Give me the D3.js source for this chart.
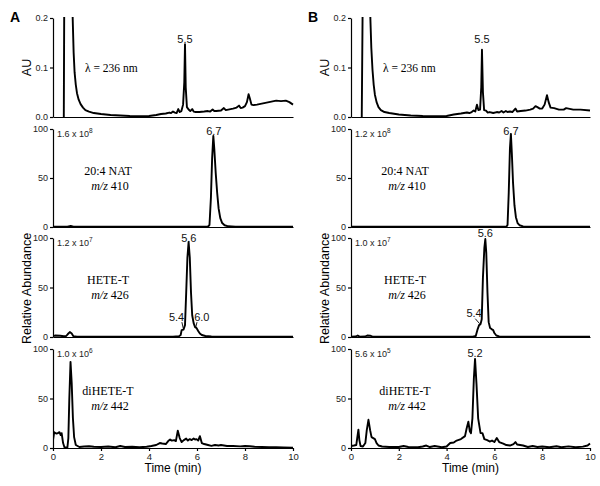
<!DOCTYPE html>
<html><head><meta charset="utf-8">
<script src="https://cdn.jsdelivr.net/npm/d3@7"></script>
<style>
body{margin:0;background:#fff;}
svg{display:block;}
.ax path,.ax line{stroke:#000;stroke-width:1.2px;}
.ax text{font-family:"Liberation Sans",Arial,sans-serif;font-size:9px;fill:#222;}
</style></head>
<body>
<svg id="c" width="600" height="486"></svg>
<script>
// ---------- data ----------
const xTicks = [0, 2, 4, 6, 8, 10];
const auTicks = [0, 0.1, 0.2];
const relTicks = [0, 50, 100];
const panelLetters = ["A", "B"];
const uvLabel = "λ = 236 nm";
const compounds = ["20:4 NAT", "HETE-T", "diHETE-T"];
const mzValues = ["410", "426", "442"];
const scaleA = [["1.6", "8"], ["1.2", "7"], ["1.0", "6"]];
const scaleB = [["1.2", "8"], ["1.0", "7"], ["5.6", "5"]];

// UV trace, panel A  [time (min), AU]
const uvA = [[0.45,0],[0.47,0.25],[0.5,0.5],[0.8,0.5],[0.82,0.2],[0.86,0.13],[0.9,0.09],[0.95,0.065],[1.0,0.048],[1.07,0.035],
[1.15,0.026],[1.25,0.019],[1.35,0.014],[1.5,0.011],[1.7,0.008],[2.0,0.006],[2.4,0.004],[2.8,0.003],[3.2,0.002],[3.6,0.0015],
[4.0,0.002],[4.3,0.004],[4.5,0.006],[4.7,0.007],[4.85,0.009],[4.92,0.008],[5.0,0.011],[5.08,0.009],[5.15,0.008],[5.22,0.016],
[5.28,0.01],[5.35,0.012],[5.42,0.025],[5.47,0.07],[5.5,0.147],[5.53,0.06],[5.58,0.02],[5.65,0.015],[5.72,0.012],[5.8,0.016],
[5.86,0.011],[5.95,0.01],[6.1,0.01],[6.3,0.011],[6.45,0.012],[6.55,0.011],[6.65,0.015],[6.72,0.012],[6.8,0.012],[7.0,0.013],
[7.12,0.018],[7.2,0.014],[7.3,0.015],[7.5,0.017],[7.65,0.019],[7.75,0.023],[7.82,0.018],[7.9,0.019],[8.0,0.022],[8.08,0.03],
[8.15,0.046],[8.2,0.038],[8.27,0.025],[8.35,0.024],[8.5,0.025],[8.7,0.027],[8.9,0.029],[9.1,0.031],[9.3,0.033],[9.5,0.032],
[9.7,0.033],[9.85,0.03],[10,0.025]];
// UV trace, panel B
const uvB = [[0.45,0],[0.5,0.3],[0.55,0.5],[0.78,0.5],[0.81,0.2],[0.85,0.14],[0.9,0.095],[0.95,0.065],[1.0,0.045],[1.07,0.03],
[1.15,0.02],[1.25,0.014],[1.4,0.01],[1.6,0.008],[2.0,0.005],[2.5,0.003],[3.0,0.002],[3.6,0.0015],[4.0,0.002],[4.3,0.005],
[4.6,0.007],[4.85,0.009],[4.95,0.008],[5.05,0.01],[5.13,0.013],[5.2,0.011],[5.27,0.025],[5.33,0.014],[5.4,0.015],[5.45,0.06],
[5.48,0.136],[5.52,0.05],[5.57,0.014],[5.65,0.013],[5.72,0.009],[5.8,0.01],[5.95,0.008],[6.1,0.01],[6.2,0.009],[6.3,0.012],
[6.38,0.009],[6.48,0.012],[6.55,0.01],[6.65,0.011],[6.75,0.01],[6.88,0.017],[6.95,0.011],[7.1,0.012],[7.3,0.013],[7.5,0.015],
[7.62,0.017],[7.72,0.022],[7.8,0.02],[7.9,0.017],[8.0,0.017],[8.1,0.025],[8.2,0.044],[8.27,0.03],[8.35,0.019],[8.5,0.018],
[8.7,0.015],[8.9,0.015],[9.0,0.018],[9.1,0.017],[9.3,0.015],[9.6,0.015],[10,0.013]];

// m/z 410, relative abundance (%)
const natA = [[0,0.3],[0.6,0.3],[0.74,1],[0.85,0.3],[2,0.2],[4,0.2],[6,0.2],[6.45,0.3],[6.52,2],[6.58,30],[6.63,70],[6.68,93],
[6.72,80],[6.78,55],[6.84,35],[6.9,19],[6.97,9],[7.05,4],[7.15,1.8],[7.3,0.7],[7.6,0.3],[8.5,0.2],[10,0.2]];
const natB = [[0,0.2],[6.5,0.2],[6.55,2],[6.6,35],[6.65,80],[6.69,95],[6.73,75],[6.78,45],[6.84,22],[6.9,10],[6.97,4],
[7.05,1.8],[7.2,0.6],[7.5,0.3],[10,0.2]];

// m/z 426
const heteA = [[0,0.8],[0.1,1.5],[0.3,1.2],[0.45,0.8],[0.55,1],[0.62,3],[0.7,5],[0.78,3.5],[0.85,0.8],[1.0,0.4],[2,0.3],[4,0.3],
[5.0,0.4],[5.25,0.8],[5.32,2],[5.36,7],[5.44,7.5],[5.5,12],[5.55,45],[5.6,80],[5.65,96],[5.7,80],[5.75,45],[5.8,22],[5.86,14],
[5.92,10],[5.98,9],[6.05,6],[6.12,3.5],[6.2,2],[6.35,1],[6.6,0.6],[7,0.4],[10,0.3]];
const heteB = [[0,0.3],[0.2,0.5],[0.28,1.5],[0.36,0.4],[0.6,0.5],[0.68,1.5],[0.8,1.3],[0.9,0.4],[2,0.2],[4,0.2],[5.1,0.3],
[5.22,1],[5.3,8],[5.36,12],[5.42,13],[5.47,18],[5.52,60],[5.58,90],[5.62,99],[5.66,85],[5.71,45],[5.76,15],[5.82,9],[5.88,8],
[5.95,7],[6.0,4],[6.08,1.5],[6.2,0.6],[6.5,0.3],[10,0.2]];

// m/z 442
const diheteA = [[0,8],[0.05,16],[0.1,15],[0.15,14.5],[0.2,15],[0.27,16],[0.32,13],[0.36,15],[0.42,5],[0.48,0.5],[0.6,0.5],
[0.64,10],[0.68,50],[0.73,87],[0.78,65],[0.83,30],[0.88,11],[0.95,3],[1.1,1],[1.3,1.5],[1.5,1.8],[1.7,1.2],[2.0,1],[2.3,1.5],
[2.6,0.8],[2.8,2],[3.0,1],[3.3,1.3],[3.6,0.8],[3.9,1.2],[4.1,2],[4.3,3],[4.45,5],[4.55,4.5],[4.7,4],[4.8,7],[4.88,8.5],
[4.95,7.5],[5.05,8],[5.12,7],[5.2,17.5],[5.28,10],[5.36,6],[5.45,8],[5.55,9.5],[5.62,7.5],[5.7,9],[5.78,8],[5.86,9.5],
[5.92,8.5],[5.98,9],[6.05,7.5],[6.12,12],[6.2,5],[6.3,4],[6.46,3],[6.6,2.2],[6.75,3],[6.9,2.5],[7.0,3],[7.25,2],[7.5,2],
[7.8,1.6],[8.0,2],[8.2,1.8],[8.4,1.2],[8.7,1],[9.0,0.8],[9.3,0.7],[9.6,0.6],[10,0.3]];
const diheteB = [[0,2],[0.12,2.5],[0.22,3],[0.26,10],[0.31,18.5],[0.35,8],[0.4,2],[0.5,1.5],[0.6,5],[0.66,18],[0.73,28.5],
[0.8,18],[0.86,11],[0.93,10],[1.0,9],[1.07,5],[1.15,2.5],[1.3,1.5],[1.6,1],[2.0,1],[2.2,2],[2.4,1],[2.8,0.8],[3.0,1.5],
[3.15,2.5],[3.3,1],[3.5,2],[3.8,0.8],[4.0,1.5],[4.15,5],[4.3,5.5],[4.42,7.5],[4.6,9],[4.77,12],[4.84,20],[4.91,26.5],
[4.97,17],[5.02,15],[5.08,30],[5.14,70],[5.19,90],[5.25,65],[5.32,30],[5.42,15],[5.5,15],[5.58,9],[5.7,8],[5.8,6.5],
[5.9,7.5],[6.0,6],[6.1,10],[6.2,6],[6.37,4.5],[6.5,3],[6.65,2.5],[6.8,4],[6.88,6],[6.95,3.5],[7.2,2.5],[7.4,1],[7.6,2],
[7.8,1],[8.0,1.5],[8.3,0.8],[8.6,1.8],[8.8,0.8],[9.1,1.6],[9.4,0.8],[9.7,1.4],[9.9,2.5],[10,4.5]];

// peak annotations: [column, row, label, time, value]
const peakLabels = [[0,0,"5.5",5.5,0.1495],[1,0,"5.5",5.48,0.1495],[0,1,"6.7",6.7,94],[1,1,"6.7",6.69,94],
[0,2,"5.6",5.66,96],[1,2,"5.6",5.62,101],[0,2,"5.4",5.15,16],[0,2,"6.0",6.2,16],[1,2,"5.4",5.15,20.5],[1,3,"5.2",5.19,92]];
// leader lines: [column, row, t1, v1, t2, v2]
const leaders = [[0,2,5.37,15,5.43,8.5],[0,2,6.0,15,5.94,9],[1,2,5.2,18.5,5.38,13.5]];

// ---------- layout ----------
const cols = [[53, 293], [351, 590]];
const rows = [[18, 117], [129, 227], [238, 337], [349, 448]];
const traces = [[uvA, natA, heteA, diheteA], [uvB, natB, heteB, diheteB]];

const svg = d3.select("#c");
const sans = '"Liberation Sans",Arial,sans-serif';
const serif = '"Liberation Serif","Times New Roman",serif';

cols.forEach((cx, ci) => {
  const x = d3.scaleLinear().domain([0, 10]).range(cx);
  rows.forEach((ry, ri) => {
    const isUV = ri === 0;
    const y = d3.scaleLinear().domain(isUV ? [0, 0.2] : [0, 100]).range([ry[1], ry[0]]);
    const g = svg.append("g");
    const cid = `clip${ci}${ri}`;
    svg.append("clipPath").attr("id", cid).append("rect")
      .attr("x", cx[0]).attr("y", ry[0] - 1).attr("width", cx[1] - cx[0] + 2).attr("height", ry[1] - ry[0] + 2);
    // trace
    g.append("path").datum(traces[ci][ri])
      .attr("clip-path", `url(#${cid})`)
      .attr("fill", "none").attr("stroke", "#000").attr("stroke-width", 1.9).attr("stroke-linejoin", "round")
      .attr("d", d3.line().x(d => x(d[0])).y(d => y(d[1])));
    // y axis
    g.append("g").attr("class", "ax").attr("transform", `translate(${cx[0]},0)`)
      .call(d3.axisLeft(y).tickValues(isUV ? auTicks : relTicks).tickFormat(isUV ? d3.format(".1f") : d3.format("d"))
        .tickSize(3).tickSizeOuter(0).tickPadding(2));
    // x axis
    const xa = g.append("g").attr("class", "ax").attr("transform", `translate(0,${ry[1]})`);
    if (ri === rows.length - 1) {
      xa.call(d3.axisBottom(x).tickValues(xTicks).tickSize(3).tickSizeOuter(0).tickPadding(2));
      xa.selectAll("text").style("font-size", "9.5px");
    } else {
      xa.call(d3.axisBottom(x).tickValues([]).tickSizeOuter(0));
    }
    // labels
    if (isUV) {
      g.append("text").attr("x", cx[0] + 32).attr("y", ry[0] + 54)
        .style("font-family", serif).style("font-size", "11.5px").text(uvLabel);
    } else {
      const k = ri - 1;
      const sc = (ci === 0 ? scaleA : scaleB)[k];
      const st = g.append("text").attr("x", cx[0] + 4).attr("y", ry[0] + 7.5)
        .style("font-family", sans).style("font-size", "9px").style("fill", "#222");
      st.append("tspan").text(sc[0] + " x 10");
      st.append("tspan").attr("dy", -3.5).style("font-size", "6.5px").text(sc[1]);
      const cxm = cx[0] + (ci === 0 ? 55 : 54);
      g.append("text").attr("x", cxm).attr("y", ry[0] + 46).attr("text-anchor", "middle")
        .style("font-family", serif).style("font-size", "12px").text(compounds[k]);
      const mt = g.append("text").attr("x", cxm + 2).attr("y", ry[0] + 61).attr("text-anchor", "middle")
        .style("font-family", serif).style("font-size", "12px");
      mt.append("tspan").style("font-style", "italic").text("m/z");
      mt.append("tspan").text(" " + mzValues[k]);
    }
    peakLabels.filter(p => p[0] === ci && p[1] === ri).forEach(p => {
      g.append("text").attr("x", x(p[3])).attr("y", y(p[4])).attr("text-anchor", "middle")
        .style("font-family", sans).style("font-size", "11px").style("fill", "#111").text(p[2]);
    });
    leaders.filter(l => l[0] === ci && l[1] === ri).forEach(l => {
      g.append("line").attr("x1", x(l[2])).attr("y1", y(l[3])).attr("x2", x(l[4])).attr("y2", y(l[5]))
        .attr("stroke", "#000").attr("stroke-width", 0.9);
    });
  });
  // column titles and axis titles
  svg.append("text").attr("x", cx[0] - 43).attr("y", 22)
    .style("font-family", sans).style("font-weight", "bold").style("font-size", "14px").text(panelLetters[ci]);
  svg.append("text").attr("transform", `translate(${cx[0] - 22},${(rows[0][0] + rows[0][1]) / 2}) rotate(-90)`)
    .attr("text-anchor", "middle").style("font-family", sans).style("font-size", "12.5px").text("AU");
  svg.append("text").attr("transform", `translate(${cx[0] - 22},${(rows[1][0] + rows[3][1]) / 2}) rotate(-90)`)
    .attr("text-anchor", "middle").style("font-family", sans).style("font-size", "12.5px").text("Relative Abundance");
  svg.append("text").attr("x", (cx[0] + cx[1]) / 2).attr("y", 472).attr("text-anchor", "middle")
    .style("font-family", sans).style("font-size", "12px").text("Time (min)");
});
</script>
</body></html>
